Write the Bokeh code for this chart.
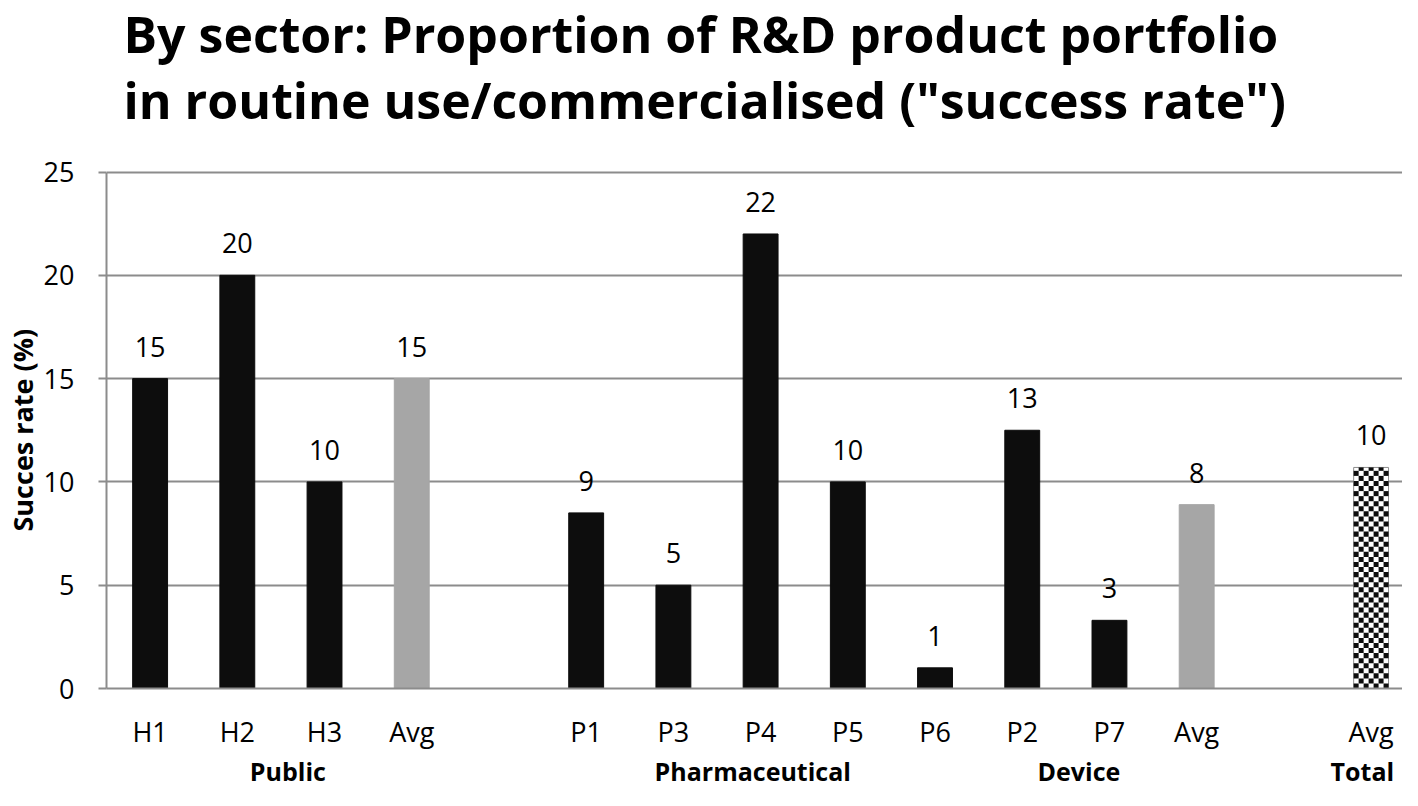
from bokeh.plotting import figure
from bokeh.models import Range1d, FixedTicker, LinearAxis, Label, Title
from bokeh.core.properties import value
from bokeh.embed import file_html
from bokeh.resources import INLINE
import numpy as np

# ---------------- data ----------------
title_lines = ["By sector: Proportion of R&D product portfolio",
               "in routine use/commercialised (\"success rate\")"]
y_label = "Succes rate (%)"

bar_labels = ["H1", "H2", "H3", "Avg", "P1", "P3", "P4", "P5", "P6", "P2", "P7", "Avg", "Avg"]
bar_values = [15, 20, 10, 15, 8.5, 5, 22, 10, 1, 12.5, 3.3, 8.9, 10.7]
value_texts = ["15", "20", "10", "15", "9", "5", "22", "10", "1", "13", "3", "8", "10"]
bar_kinds = ["org", "org", "org", "avg", "org", "org", "org", "org", "org", "org", "org", "avg", "total"]
# block membership (a blank slot separates blocks)
bar_blocks = [0, 0, 0, 0, 1, 1, 1, 1, 1, 1, 1, 1, 2]

group_labels = ["Public", "Pharmaceutical", "Device", "Total"]
group_pos = [1.58, 6.91, 10.65, 13.9]

y_ticks = [0, 5, 10, 15, 20, 25]

# ---------------- layout ----------------
slots = []
s = 0
prev = bar_blocks[0]
for b in bar_blocks:
    if b != prev:
        s += 1
        prev = b
    slots.append(s)
    s += 1

FONT = "Open Sans"
GRAY = "#8c8c8c"
colors = {"org": "#0d0d0d", "avg": "#a6a6a6", "total": "#ffffff"}

W, H = 1402, 790
LEFT, BOTTOM = 106, 100
FRAME_H = H - BOTTOM          # frame spans whole height above the x axis
AXIS_TOP_PX = 172             # pixel row of the top y tick
Y_MAX = max(y_ticks)
y_end = Y_MAX * FRAME_H / (FRAME_H - AXIS_TOP_PX)

p = figure(width=W, height=H, output_backend="svg", toolbar_location=None,
           x_range=Range1d(-0.5, slots[-1] + 0.36), y_range=Range1d(0, y_end),
           min_border_left=LEFT, min_border_right=0, min_border_bottom=BOTTOM,
           min_border_top=0)
p.outline_line_color = None
p.background_fill_color = "white"
p.border_fill_color = "white"

# titles (screen units, relative to frame bottom-left; inside the frame)
for txt, base in zip(title_lines, [35, 101]):
    p.add_layout(Label(x=17, y=FRAME_H - base, x_units="screen", y_units="screen",
                       text=txt, text_font=FONT, text_font_size="50px",
                       text_font_style="bold", text_color="black",
                       text_baseline="alphabetic", text_align="left"))

# grid
p.xgrid.grid_line_color = None
p.ygrid.ticker = FixedTicker(ticks=y_ticks)
p.ygrid.grid_line_color = GRAY
p.ygrid.grid_line_width = 2

# bars
bar_w = 0.4
xs = np.array(slots, dtype=float)
vals = np.array(bar_values, dtype=float)
fills = [colors[k] for k in bar_kinds]
lines = [GRAY if k == "total" else colors[k] for k in bar_kinds]
p.vbar(x=xs, top=vals, bottom=0, width=bar_w, fill_color=fills, line_color=lines, line_width=1)

# checker pattern for the total bar
for i, k in enumerate(bar_kinds):
    if k != "total":
        continue
    ncol = 7
    cw = bar_w / ncol
    ch = 0.245
    nrow = int(np.ceil(bar_values[i] / ch))
    L, R, B, T = [], [], [], []
    for r in range(nrow):
        for c in range(ncol):
            if (r + c) % 2 == 0:
                L.append(xs[i] - bar_w / 2 + c * cw)
                R.append(xs[i] - bar_w / 2 + (c + 1) * cw)
                B.append(r * ch)
                T.append(min((r + 1) * ch, bar_values[i]))
    p.quad(left=L, right=R, bottom=B, top=T, fill_color="#0d0d0d", line_color=None)

# value labels
p.text(x=xs, y=vals, text=value_texts, text_align="center", text_baseline="alphabetic",
       y_offset=-32, text_font=value(FONT), text_font_size="27px", text_color="black")

# y axis
ya = p.yaxis[0]
ya.ticker = FixedTicker(ticks=y_ticks)
ya.bounds = (0, Y_MAX)
ya.axis_line_color = GRAY
ya.axis_line_width = 2
ya.major_tick_line_color = GRAY
ya.major_tick_line_width = 2
ya.major_tick_out = 8
ya.major_tick_in = 0
ya.minor_tick_line_color = None
ya.major_label_standoff = 24
ya.major_label_text_font = FONT
ya.major_label_text_font_size = "27px"
ya.major_label_text_color = "black"

# y label as a side title, placed along the axis span
p.add_layout(Title(text=y_label, align="left", offset=157, standoff=0,
                   vertical_align="bottom",
                   text_font=FONT, text_font_size="27px", text_font_style="bold",
                   text_color="black"), "left")

# x axis (bar labels)
xa = p.xaxis[0]
xa.ticker = FixedTicker(ticks=list(xs))
xa.major_label_overrides = {float(x): l for x, l in zip(xs, bar_labels)}
xa.axis_line_color = GRAY
xa.axis_line_width = 2
xa.major_tick_line_color = None
xa.minor_tick_line_color = None
xa.major_tick_out = 0
xa.major_tick_in = 0
xa.major_label_standoff = 24
xa.major_label_text_font = FONT
xa.major_label_text_font_size = "27px"
xa.major_label_text_color = "black"

# group labels axis
ga = LinearAxis(ticker=FixedTicker(ticks=group_pos),
                major_label_overrides={float(x): l for x, l in zip(group_pos, group_labels)})
ga.axis_line_color = None
ga.major_tick_line_color = None
ga.minor_tick_line_color = None
ga.major_tick_out = 0
ga.major_tick_in = 0
ga.major_label_standoff = 1
ga.major_label_text_font = FONT
ga.major_label_text_font_size = "25px"
ga.major_label_text_font_style = "bold"
ga.major_label_text_color = "black"
p.add_layout(ga, "below")

open("out.html", "w").write(file_html(p, INLINE))
